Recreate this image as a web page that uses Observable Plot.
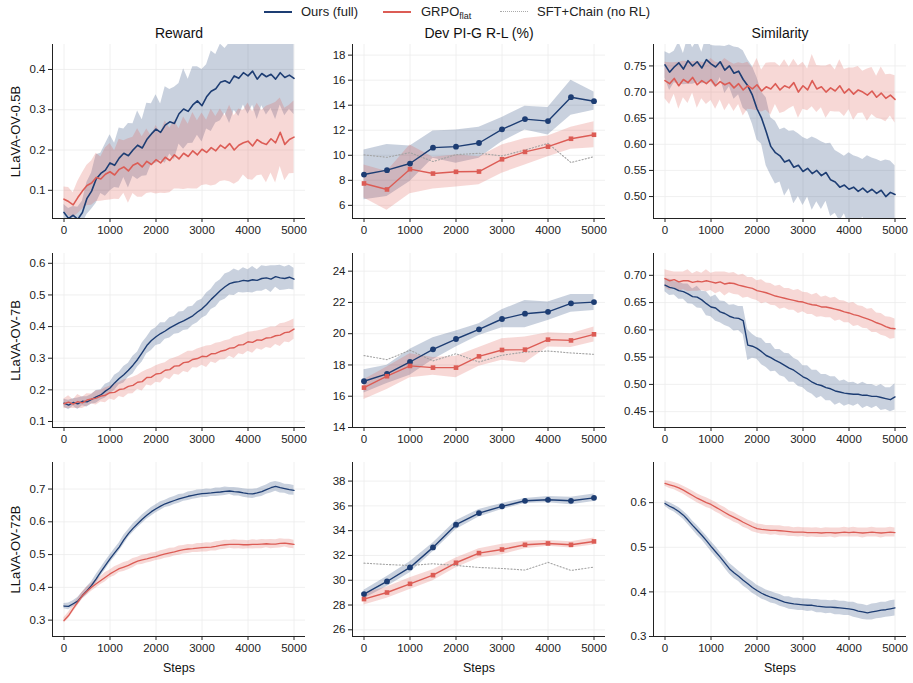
<!DOCTYPE html>
<html>
<head>
<meta charset="utf-8">
<script src="https://cdn.jsdelivr.net/npm/d3@7"></script>
<script src="https://cdn.jsdelivr.net/npm/@observablehq/plot@0.6"></script>
<style>
  body { margin: 0; background: #fff; font-family: "Liberation Sans", Arial, sans-serif; }
  #fig { position: relative; width: 913px; height: 683px; overflow: hidden; }
  .sw { position: absolute; top: 11px; width: 28px; height: 0; }
  .lab { position: absolute; top: 4px; font-size: 13px; line-height: 15px; color: #222; white-space: nowrap; }
  .lab sub { font-size: 9px; vertical-align: -3px; line-height: 0; }
</style>
</head>
<body>
<div id="fig">
  <div class="sw" style="left:264px;border-top:2.2px solid #1d3d73"></div>
  <div class="lab" style="left:301px">Ours (full)</div>
  <div class="sw" style="left:383px;border-top:2.2px solid #dc5c55"></div>
  <div class="lab" style="left:421px">GRPO<sub>flat</sub></div>
  <div class="sw" style="left:500px;border-top:1.3px dotted #aaaaaa"></div>
  <div class="lab" style="left:537px">SFT+Chain (no RL)</div>
</div>
<script>
// ---- logged training curves: one value every 100 steps ----
const steps = [0,100,200,300,400,500,600,700,800,900,1000,1100,1200,1300,1400,1500,1600,1700,1800,1900,
  2000,2100,2200,2300,2400,2500,2600,2700,2800,2900,3000,3100,3200,3300,3400,3500,3600,3700,3800,3900,
  4000,4100,4200,4300,4400,4500,4600,4700,4800,4900,5000];
// evaluation checkpoints for Dev PI-G R-L
const evalSteps = [0,500,1000,1500,2000,2500,3000,3500,4000,4500,5000];

// LLaVA-OV-0.5B : reward
const reward05Ours = [.045,.030,.038,.028,.045,.080,.098,.128,.142,.150,
  .168,.162,.180,.192,.186,.200,.212,.205,.226,.240,
  .252,.244,.262,.270,.266,.290,.302,.296,.312,.322,
  .310,.332,.346,.352,.368,.372,.366,.384,.378,.392,
  .384,.396,.376,.390,.382,.388,.376,.392,.380,.386,.378];
const reward05OursBand = [.020,.025,.022,.030,.028,.040,.045,.060,.050,.065,
  .070,.055,.075,.060,.080,.065,.085,.070,.090,.075,
  .085,.070,.095,.080,.090,.075,.100,.080,.095,.085,
  .090,.080,.100,.085,.095,.080,.100,.085,.095,.080,
  .095,.085,.100,.080,.095,.085,.100,.080,.095,.085,.090];
const reward05Flat = [.078,.072,.064,.082,.098,.112,.118,.132,.128,.140,
  .146,.138,.152,.158,.148,.162,.168,.158,.172,.164,
  .176,.168,.182,.174,.188,.178,.192,.184,.198,.188,
  .202,.194,.206,.198,.212,.204,.216,.200,.212,.218,
  .222,.210,.226,.218,.214,.228,.218,.244,.214,.226,.232];
const reward05FlatBand = [.030,.035,.030,.040,.045,.050,.055,.060,.055,.065,
  .070,.060,.075,.065,.080,.070,.085,.075,.080,.070,
  .085,.075,.090,.080,.085,.075,.090,.080,.095,.085,
  .090,.080,.095,.085,.090,.080,.095,.085,.090,.080,
  .095,.085,.090,.080,.095,.085,.100,.085,.090,.085,.090];

// LLaVA-OV-0.5B : similarity
const sim05Ours = [.752,.738,.748,.756,.744,.760,.750,.758,.746,.762,
  .754,.748,.758,.742,.750,.736,.740,.724,.712,.694,
  .668,.650,.624,.596,.584,.578,.566,.570,.556,.560,
  .548,.554,.544,.550,.540,.546,.532,.528,.518,.522,
  .514,.518,.510,.516,.508,.514,.506,.512,.500,.508,.504];
const sim05OursBand = [.025,.035,.030,.040,.030,.045,.035,.040,.030,.045,
  .035,.040,.030,.045,.040,.050,.045,.055,.050,.055,
  .060,.050,.065,.055,.060,.050,.065,.055,.070,.060,
  .065,.055,.070,.060,.065,.055,.070,.060,.065,.055,
  .070,.060,.065,.055,.070,.060,.065,.055,.070,.060,.055];
const sim05Flat = [.722,.716,.726,.712,.724,.718,.728,.714,.722,.716,
  .724,.712,.720,.714,.718,.708,.716,.704,.712,.706,
  .714,.702,.710,.706,.716,.704,.712,.708,.718,.700,
  .712,.704,.722,.706,.710,.700,.708,.702,.712,.698,
  .706,.696,.704,.700,.694,.702,.690,.698,.688,.694,.686];
const sim05FlatBand = [.035,.040,.030,.045,.035,.040,.030,.045,.035,.040,
  .040,.045,.035,.050,.040,.045,.040,.050,.045,.040,
  .050,.040,.045,.050,.040,.045,.050,.040,.045,.050,
  .045,.040,.050,.045,.040,.050,.045,.040,.050,.045,
  .040,.050,.045,.040,.050,.045,.040,.050,.045,.040,.045];

// LLaVA-OV-7B : reward
const reward7Ours = [.158,.152,.160,.156,.164,.162,.170,.178,.184,.196,
  .206,.222,.236,.248,.262,.278,.296,.318,.340,.356,
  .368,.378,.386,.396,.404,.412,.418,.426,.434,.446,
  .456,.470,.486,.500,.514,.526,.536,.540,.542,.546,
  .544,.548,.546,.552,.554,.550,.558,.554,.552,.556,.550];
const reward7OursBand = [.012,.015,.012,.018,.014,.016,.015,.020,.016,.022,
  .018,.024,.020,.026,.022,.028,.024,.030,.026,.032,
  .028,.034,.026,.032,.028,.034,.030,.036,.030,.034,
  .030,.036,.032,.038,.034,.040,.036,.042,.034,.040,
  .036,.042,.034,.040,.036,.042,.034,.040,.036,.038,.034];
const reward7Flat = [.156,.161,.155,.163,.159,.168,.171,.174,.180,.183,
  .191,.192,.201,.203,.211,.214,.224,.226,.239,.240,
  .250,.252,.262,.264,.275,.276,.286,.288,.296,.299,
  .306,.305,.314,.315,.322,.325,.332,.333,.342,.343,
  .352,.350,.358,.357,.364,.365,.371,.373,.381,.383,.392];
const reward7FlatBand = [.015,.020,.014,.022,.018,.020,.016,.022,.018,.024,
  .020,.026,.022,.028,.024,.026,.022,.030,.024,.028,
  .026,.030,.024,.032,.026,.030,.028,.034,.026,.030,
  .028,.034,.026,.032,.028,.030,.026,.034,.028,.032,
  .030,.034,.028,.032,.030,.034,.028,.036,.030,.034,.032];

// LLaVA-OV-7B : similarity
const sim7Ours = [.682,.678,.676,.672,.670,.666,.661,.660,.655,.648,
  .642,.640,.633,.630,.625,.622,.621,.617,.572,.570,
  .566,.560,.553,.549,.544,.540,.535,.530,.526,.520,
  .514,.510,.504,.500,.498,.494,.492,.488,.486,.484,
  .483,.482,.482,.480,.480,.478,.478,.476,.474,.472,.477];
const sim7OursBand = [.012,.015,.012,.016,.014,.018,.014,.020,.016,.022,
  .018,.024,.020,.022,.020,.024,.022,.026,.028,.022,
  .020,.024,.022,.026,.020,.024,.022,.026,.022,.024,
  .020,.024,.022,.026,.020,.024,.022,.026,.020,.024,
  .020,.022,.018,.024,.020,.022,.018,.024,.020,.022,.024];
const sim7Flat = [.694,.690,.692,.688,.690,.690,.687,.689,.688,.690,
  .688,.686,.688,.684,.686,.685,.682,.680,.678,.676,
  .672,.670,.668,.665,.662,.660,.658,.656,.654,.652,
  .651,.648,.646,.645,.642,.642,.640,.638,.636,.633,
  .631,.628,.626,.623,.620,.617,.613,.610,.606,.603,.602];
const sim7FlatBand = [.016,.018,.014,.018,.016,.020,.016,.018,.016,.020,
  .016,.020,.018,.022,.018,.020,.018,.022,.018,.020,
  .018,.022,.018,.020,.018,.022,.018,.020,.018,.022,
  .018,.020,.018,.022,.018,.020,.018,.022,.018,.020,
  .018,.022,.018,.020,.018,.022,.018,.020,.018,.020,.018];

// LLaVA-OV-72B : reward
const reward72Ours = [.343,.342,.350,.358,.375,.390,.406,.426,.447,.467,
  .487,.505,.523,.545,.564,.580,.594,.608,.620,.631,
  .640,.648,.655,.660,.665,.670,.674,.678,.681,.684,
  .686,.687,.688,.690,.691,.693,.694,.692,.691,.688,
  .686,.685,.688,.692,.698,.704,.708,.704,.701,.698,.696];
const reward72OursBand = [.008,.010,.009,.011,.010,.012,.011,.013,.012,.013,
  .012,.013,.012,.014,.012,.013,.012,.013,.012,.013,
  .012,.013,.011,.013,.012,.013,.011,.013,.012,.013,
  .012,.013,.011,.013,.012,.013,.011,.013,.012,.013,
  .013,.014,.013,.015,.014,.016,.015,.016,.014,.016,.015];
const reward72Flat = [.299,.314,.335,.355,.375,.388,.400,.411,.421,.431,
  .441,.449,.457,.462,.467,.474,.480,.484,.487,.491,
  .494,.498,.502,.505,.508,.512,.515,.517,.518,.520,
  .521,.522,.523,.525,.528,.530,.531,.531,.531,.530,
  .530,.531,.531,.532,.533,.532,.532,.534,.535,.533,.531];
const reward72FlatBand = [.008,.010,.010,.011,.011,.012,.012,.013,.012,.014,
  .012,.014,.012,.014,.013,.014,.012,.014,.013,.014,
  .012,.014,.013,.014,.012,.014,.013,.014,.012,.014,
  .013,.014,.012,.014,.013,.014,.012,.014,.013,.014,
  .012,.014,.013,.014,.012,.014,.013,.014,.012,.014,.013];

// LLaVA-OV-72B : similarity
const sim72Ours = [.598,.592,.587,.580,.572,.561,.549,.538,.527,.515,
  .502,.490,.478,.465,.452,.443,.435,.426,.418,.410,
  .403,.397,.392,.388,.385,.381,.377,.375,.373,.372,
  .371,.370,.370,.368,.367,.366,.366,.365,.364,.363,
  .362,.360,.357,.355,.353,.355,.357,.359,.360,.362,.364];
const sim72OursBand = [.006,.008,.008,.009,.009,.010,.010,.011,.010,.011,
  .011,.012,.011,.012,.012,.013,.012,.013,.012,.013,
  .012,.013,.012,.013,.012,.013,.012,.014,.013,.014,
  .013,.014,.013,.015,.014,.015,.014,.016,.015,.016,
  .015,.017,.016,.017,.016,.018,.017,.018,.017,.018,.018];
const sim72Flat = [.643,.640,.637,.633,.628,.622,.616,.610,.605,.600,
  .596,.590,.584,.578,.572,.567,.562,.556,.551,.546,
  .542,.540,.539,.538,.538,.537,.536,.535,.534,.534,
  .534,.533,.533,.533,.532,.533,.533,.532,.533,.534,
  .533,.534,.533,.532,.533,.534,.533,.532,.533,.534,.533];
const sim72FlatBand = [.006,.008,.008,.009,.009,.010,.010,.010,.010,.011,
  .010,.011,.010,.011,.010,.011,.010,.011,.010,.011,
  .010,.011,.010,.011,.010,.011,.010,.011,.010,.011,
  .010,.011,.010,.011,.010,.011,.010,.011,.010,.011,
  .010,.011,.010,.011,.010,.011,.010,.011,.010,.011,.010];

// Dev PI-G R-L (%) at evaluation checkpoints: mean, band low, band high
const pig05Ours   = [8.46,8.81,9.34,10.61,10.69,10.98,12.07,12.89,12.73,14.64,14.32];
const pig05OursLo = [6.45,6.70,7.90,9.76,9.36,9.76,11.09,12.01,11.62,13.20,13.60];
const pig05OursHi = [10.42,10.87,10.74,11.93,12.01,12.23,13.02,13.92,13.81,15.99,15.06];
const pig05Flat   = [7.75,7.27,8.89,8.54,8.68,8.70,9.68,10.27,10.69,11.32,11.64];
const pig05FlatLo = [6.58,5.60,6.93,7.30,7.46,7.64,8.57,9.23,9.89,10.48,10.61];
const pig05FlatHi = [9.23,8.70,10.82,9.84,10.03,9.89,10.82,11.35,11.54,12.23,12.68];
const pig05Sft    = [10.03,9.84,10.21,9.50,10.05,10.16,9.95,10.42,10.95,9.42,9.89];

const pig7Ours   = [16.96,17.43,18.19,19.00,19.66,20.28,20.94,21.28,21.40,21.94,22.02];
const pig7OursLo = [16.21,16.81,17.34,18.34,19.15,19.89,20.38,20.38,20.85,21.38,21.49];
const pig7OursHi = [17.70,17.98,19.00,19.74,20.17,20.64,21.53,22.13,22.02,22.51,22.51];
const pig7Flat   = [16.55,17.28,17.94,17.83,17.83,18.55,18.96,18.98,19.62,19.57,19.96];
const pig7FlatLo = [15.79,16.43,17.19,17.34,17.19,17.91,18.30,18.13,19.15,19.11,19.47];
const pig7FlatHi = [17.06,17.87,18.72,18.47,18.55,19.11,19.68,19.79,20.06,20.00,20.43];
const pig7Sft    = [18.60,18.34,18.94,18.26,18.72,18.19,18.62,18.83,18.89,18.77,18.68];

const pig72Ours   = [28.88,29.90,31.03,32.65,34.48,35.42,35.96,36.41,36.49,36.41,36.65];
const pig72OursLo = [28.50,29.50,30.60,32.30,34.10,35.10,35.70,36.20,36.25,36.10,36.35];
const pig72OursHi = [29.20,30.30,31.50,33.00,34.80,35.70,36.20,36.60,36.75,36.70,36.95];
const pig72Flat   = [28.48,29.01,29.71,30.41,31.41,32.19,32.48,32.86,32.97,32.86,33.13];
const pig72FlatLo = [28.00,28.55,29.25,29.95,31.00,31.80,32.05,32.55,32.75,32.60,32.85];
const pig72FlatHi = [28.95,29.45,30.20,30.85,31.80,32.55,32.90,33.15,33.20,33.10,33.40];
const pig72Sft    = [31.38,31.27,31.19,31.33,31.19,31.03,30.95,30.82,31.44,30.79,31.06];

// ---- labels and axis ticks ----
const columnTitles = ["Reward", "Dev PI-G R-L (%)", "Similarity"];
const rowLabels = ["LLaVA-OV-0.5B", "LLaVA-OV-7B", "LLaVA-OV-72B"];
const xTicks = [0, 1000, 2000, 3000, 4000, 5000];

// ---- styling ----
const NAVY = "#1d3d73", RED = "#dc5c55", GRAY = "#a3a3a3";
const COL_X = [52, 352, 653];   // left spine of each column
const ROW_Y = [44, 253, 462];   // top of each row's frame
const FRAME_W = 253, FRAME_H = 174;
const M = {top: 30, right: 6, bottom: 42, left: 52};

const curve = (ys, hs) => steps.map((s, i) => ({step: s, y: ys[i], lo: ys[i] - hs[i], hi: ys[i] + hs[i]}));
const evalRows = (ys, lo, hi) => evalSteps.map((s, i) => ({step: s, y: ys[i], lo: lo[i], hi: hi[i]}));

const panels = [
  // row 0
  {kind: "curve", domain: [0.03, 0.462], ticks: [0.1, 0.2, 0.3, 0.4], fmt: ".1f", lw: 1.6,
   ours: curve(reward05Ours, reward05OursBand), flat: curve(reward05Flat, reward05FlatBand)},
  {kind: "eval", domain: [4.95, 18.85], ticks: [6, 8, 10, 12, 14, 16, 18], fmt: "d",
   ours: evalRows(pig05Ours, pig05OursLo, pig05OursHi), flat: evalRows(pig05Flat, pig05FlatLo, pig05FlatHi), sft: pig05Sft},
  {kind: "curve", domain: [0.458, 0.791], ticks: [0.50, 0.55, 0.60, 0.65, 0.70, 0.75], fmt: ".2f", lw: 1.6,
   ours: curve(sim05Ours, sim05OursBand), flat: curve(sim05Flat, sim05FlatBand)},
  // row 1
  {kind: "curve", domain: [0.081, 0.631], ticks: [0.1, 0.2, 0.3, 0.4, 0.5, 0.6], fmt: ".1f", lw: 1.4,
   ours: curve(reward7Ours, reward7OursBand), flat: curve(reward7Flat, reward7FlatBand)},
  {kind: "eval", domain: [14, 25.13], ticks: [14, 16, 18, 20, 22, 24], fmt: "d",
   ours: evalRows(pig7Ours, pig7OursLo, pig7OursHi), flat: evalRows(pig7Flat, pig7FlatLo, pig7FlatHi), sft: pig7Sft},
  {kind: "curve", domain: [0.421, 0.740], ticks: [0.45, 0.50, 0.55, 0.60, 0.65, 0.70], fmt: ".2f", lw: 1.4,
   ours: curve(sim7Ours, sim7OursBand), flat: curve(sim7Flat, sim7FlatBand)},
  // row 2
  {kind: "curve", domain: [0.25, 0.781], ticks: [0.3, 0.4, 0.5, 0.6, 0.7], fmt: ".1f", lw: 1.3,
   ours: curve(reward72Ours, reward72OursBand), flat: curve(reward72Flat, reward72FlatBand)},
  {kind: "eval", domain: [25.46, 39.5], ticks: [26, 28, 30, 32, 34, 36, 38], fmt: "d",
   ours: evalRows(pig72Ours, pig72OursLo, pig72OursHi), flat: evalRows(pig72Flat, pig72FlatLo, pig72FlatHi), sft: pig72Sft},
  {kind: "curve", domain: [0.3, 0.69], ticks: [0.3, 0.4, 0.5, 0.6], fmt: ".1f", lw: 1.3,
   ours: curve(sim72Ours, sim72OursBand), flat: curve(sim72Flat, sim72FlatBand)}
];

const fig = document.getElementById("fig");

panels.forEach((p, k) => {
  const row = Math.floor(k / 3), col = k % 3;
  const marks = [
    Plot.gridX(xTicks, {stroke: "#ececec", strokeOpacity: 1, strokeWidth: 0.8}),
    Plot.gridY(p.ticks, {stroke: "#ececec", strokeOpacity: 1, strokeWidth: 0.8}),
    Plot.areaY(p.ours, {x: "step", y1: "lo", y2: "hi", fill: NAVY, fillOpacity: 0.24, clip: true}),
    Plot.areaY(p.flat, {x: "step", y1: "lo", y2: "hi", fill: RED, fillOpacity: 0.24, clip: true})
  ];
  if (p.kind === "eval") {
    marks.push(
      Plot.lineY(p.sft, {x: (d, i) => evalSteps[i], y: d => d, stroke: GRAY, strokeWidth: 1.1, strokeDasharray: "1.2,2", clip: true}),
      Plot.lineY(p.ours, {x: "step", y: "y", stroke: NAVY, strokeWidth: 1.4}),
      Plot.lineY(p.flat, {x: "step", y: "y", stroke: RED, strokeWidth: 1.4}),
      Plot.dot(p.ours, {x: "step", y: "y", fill: NAVY, r: 2.9, symbol: "circle"}),
      Plot.dot(p.flat, {x: "step", y: "y", fill: RED, r: 2.6, symbol: "square"})
    );
  } else {
    marks.push(
      Plot.lineY(p.ours, {x: "step", y: "y", stroke: NAVY, strokeWidth: p.lw, clip: true}),
      Plot.lineY(p.flat, {x: "step", y: "y", stroke: RED, strokeWidth: p.lw, clip: true})
    );
  }
  marks.push(
    Plot.ruleY([p.domain[0]], {stroke: "#222", strokeWidth: 1}),
    Plot.ruleX([-250], {stroke: "#222", strokeWidth: 1}),
    Plot.axisX(xTicks, {tickFormat: "d", tickSize: 4, tickPadding: 3, label: null, fontSize: 11.5}),
    Plot.axisY(p.ticks, {tickFormat: p.fmt, tickSize: 4, tickPadding: 3, label: null, fontSize: 11.5})
  );
  if (row === 0) marks.push(Plot.text([columnTitles[col]], {frameAnchor: "top", dy: -11, lineAnchor: "middle", fontSize: 14, fill: "#111"}));
  if (col === 0) marks.push(Plot.text([rowLabels[row]], {frameAnchor: "left", dx: -37, rotate: -90, textAnchor: "middle", lineAnchor: "middle", fontSize: 13, fill: "#111"}));
  if (row === 2) marks.push(Plot.text(["Steps"], {frameAnchor: "bottom", dy: 31, lineAnchor: "middle", fontSize: 12.5, fill: "#111"}));

  const svg = Plot.plot({
    width: M.left + FRAME_W + M.right,
    height: M.top + FRAME_H + M.bottom,
    marginTop: M.top, marginRight: M.right, marginBottom: M.bottom, marginLeft: M.left,
    x: {domain: [-250, 5250]},
    y: {domain: p.domain},
    style: {fontFamily: "'Liberation Sans', Arial, sans-serif", fontSize: "11.5px", color: "#222",
            background: "transparent", overflow: "visible"},
    marks
  });
  svg.style.position = "absolute";
  svg.style.left = (COL_X[col] - M.left) + "px";
  svg.style.top = (ROW_Y[row] - M.top) + "px";
  svg.style.maxWidth = "none";
  fig.appendChild(svg);
});
</script>
</body>
</html>
